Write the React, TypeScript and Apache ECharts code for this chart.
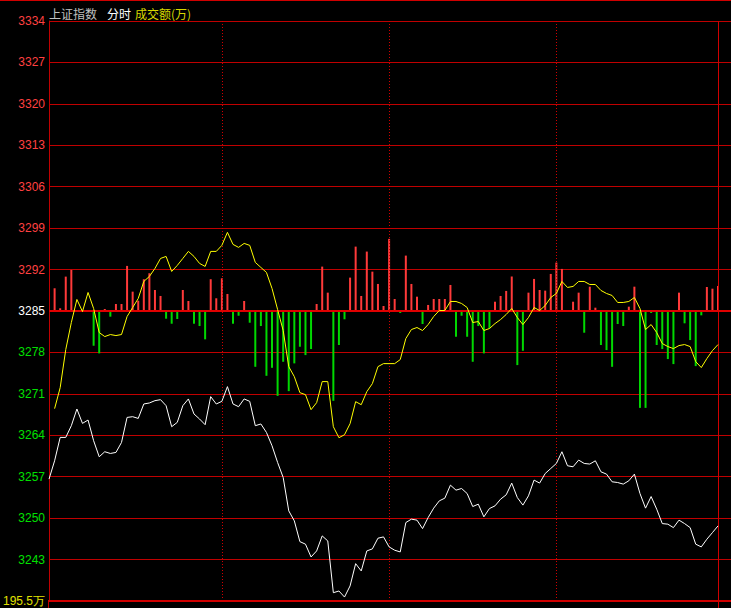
import React, { useEffect, useRef } from 'react';
import * as echarts from 'echarts';

// White line: index price, one point per 2 minutes (121 points)
const priceLine = [
  3256.60, 3259.69, 3263.64, 3263.64, 3265.62, 3268.44, 3266.01, 3266.58, 3263.08, 3260.37,
  3261.22, 3260.93, 3261.10, 3262.79, 3267.02, 3267.14, 3266.85, 3269.29, 3269.46, 3269.85,
  3270.02, 3269.00, 3265.45, 3266.18, 3269.00, 3270.14, 3267.60, 3266.75, 3265.79, 3270.53,
  3269.29, 3269.73, 3272.22, 3269.29, 3268.83, 3270.14, 3269.73, 3265.62, 3265.91, 3264.48,
  3262.23, 3259.41, 3256.87, 3251.23, 3249.54, 3246.03, 3245.60, 3243.44, 3244.46, 3247.00,
  3246.15, 3237.40, 3237.69, 3236.67, 3238.54, 3242.31, 3241.08, 3244.46, 3244.80, 3246.61,
  3246.83, 3245.14, 3244.58, 3244.29, 3249.25, 3249.83, 3249.66, 3248.23, 3250.10, 3251.69,
  3252.92, 3253.38, 3255.58, 3254.73, 3255.01, 3254.16, 3251.96, 3252.36, 3250.22, 3251.62,
  3252.08, 3253.21, 3253.94, 3255.92, 3253.48, 3252.20, 3253.77, 3256.43, 3255.92, 3257.54,
  3258.39, 3259.24, 3261.22, 3258.85, 3258.68, 3259.81, 3259.24, 3259.14, 3259.69, 3257.83,
  3257.44, 3256.14, 3256.02, 3255.75, 3256.31, 3257.44, 3254.16, 3251.69, 3253.65, 3251.52,
  3249.08, 3248.98, 3248.40, 3249.66, 3249.08, 3248.40, 3245.60, 3245.14, 3246.44, 3247.56,
  3248.69,
];

// Yellow line (first point missing)
const leadLine: (number | null)[] = [
  null, 3268.50, 3272.05, 3278.48, 3283.05, 3286.95, 3284.91, 3288.13, 3285.42, 3281.36,
  3280.68, 3281.02, 3280.85, 3281.02, 3284.07, 3285.59, 3287.11, 3289.99, 3290.84, 3292.19,
  3293.88, 3294.22, 3291.68, 3292.70, 3293.88, 3295.07, 3294.22, 3293.04, 3292.53, 3295.07,
  3295.07, 3296.09, 3298.29, 3296.25, 3295.75, 3296.42, 3296.09, 3293.21, 3292.36, 3291.52,
  3288.81, 3285.25, 3281.70, 3275.60, 3273.91, 3271.20, 3270.87, 3268.33, 3269.51, 3273.07,
  3273.07, 3265.45, 3263.59, 3264.09, 3265.96, 3269.68, 3269.17, 3271.37, 3272.73, 3275.60,
  3276.11, 3276.11, 3276.11, 3276.79, 3280.34, 3281.87, 3282.21, 3281.70, 3282.71, 3284.07,
  3285.08, 3285.08, 3286.61, 3286.61, 3286.27, 3285.59, 3283.05, 3283.22, 3281.70, 3282.04,
  3282.88, 3283.56, 3284.41, 3285.42, 3283.90, 3282.71, 3283.90, 3285.59, 3285.08, 3285.93,
  3287.28, 3287.96, 3289.99, 3288.98, 3289.15, 3289.99, 3289.99, 3289.48, 3289.48, 3288.47,
  3287.96, 3287.62, 3286.44, 3286.44, 3286.61, 3287.28, 3285.42, 3281.87, 3282.71, 3281.36,
  3279.50, 3278.99, 3278.65, 3279.16, 3279.33, 3278.99, 3276.45, 3275.44, 3276.96, 3278.31,
  3279.33,
];

// Red/green bars around the 3285 baseline (same units as the price axis)
const flowBars = [
  0, 3.84, 0.46, 5.81, 6.94, 0, -0.17, 0, -5.87, -7.16,
  0.34, -0.96, 1.18, 1.18, 7.62, 3.27, 1.74, 5.37, 6.38, 3.55,
  2.54, -1.30, -2.15, -1.35, 3.55, 1.69, -2.15, -2.54, -4.79, 5.37,
  2.15, 5.53, 2.88, -2.15, -0.80, 1.69, -1.98, -9.43, -2.54, -10.95,
  -9.60, -14.34, -8.58, -13.54, -8.85, -6.04, -7.45, -6.43, 1.18, 7.50,
  3.10, -15.18, -5.75, -1.40, 5.64, 10.88, 2.54, 10.04, 6.65, 4.57,
  0.85, 12.19, 2.03, -0.34, 9.36, 4.57, 2.42, -2.20, 1.02, 2.03,
  2.03, 2.03, 4.40, -4.35, -0.80, -4.35, -8.58, -2.54, -7.16, -2.93,
  1.57, 2.54, 3.39, 5.81, -9.14, -6.72, 3.10, 5.42, 3.55, 3.44,
  6.26, 8.18, 7.11, 0, 1.57, 3.10, -3.67, 4.11, 0.56, -5.75,
  -6.60, -9.43, -2.20, -2.54, 0.73, 4.11, -16.37, -16.37, -0.34, -5.75,
  -6.43, -8.12, -8.97, 3.10, -2.08, -4.91, -9.31, -0.73, 4.06, 3.77,
  4.23,
];

const dividerIdx = [31, 61, 91];
const lastIdx = 120;
const yMin = 3236;
const yMax = 3334;
const yStep = 7;
const baseline = 3285;
const bottomLabel = '195.5万';
const headerTexts = ['上证指数', '分时', '成交额(万)'];

export default function App() {
  const ref = useRef<HTMLDivElement>(null);

  useEffect(() => {
    const chart = echarts.init(ref.current as HTMLDivElement, null, { renderer: 'svg' });
    const GRID = '#c00000';
    const NUM_FONT = '"Liberation Sans", Arial, sans-serif';
    const CJK_FONT = '"Noto Sans CJK SC", sans-serif';
    const span = 49;

    const option: any = {
      animation: false,
      backgroundColor: '#000000',
      grid: { left: 48, right: 0, top: 21, bottom: 7 },
      xAxis: {
        type: 'value',
        min: 0,
        max: (lastIdx * 683) / 670,
        axisLine: { show: true, onZero: false, lineStyle: { color: '#d00000', width: 2 } },
        axisTick: { show: false },
        axisLabel: { show: false },
        splitLine: { show: false },
      },
      yAxis: [
        {
          type: 'value',
          min: yMin,
          max: yMax,
          interval: yStep,
          axisLine: { show: true, lineStyle: { color: GRID, width: 1 } },
          axisTick: { show: false },
          splitLine: { show: true, lineStyle: { color: GRID, width: 1 } },
          axisLabel: {
            show: true,
            margin: 4,
            showMinLabel: true,
            showMaxLabel: true,
            formatter: (v: number) => {
              const r = Math.round(v);
              if (r === yMin) return '{y|' + bottomLabel + '}';
              if (r > baseline) return '{r|' + r + '}';
              if (r === baseline) return '{w|' + r + '}';
              return '{g|' + r + '}';
            },
            rich: {
              r: { color: '#ff4040', fontSize: 12, fontFamily: NUM_FONT },
              w: { color: '#ffffff', fontSize: 12, fontFamily: NUM_FONT },
              g: { color: '#00e000', fontSize: 12, fontFamily: NUM_FONT },
              y: { color: '#e0e000', fontSize: 12, fontFamily: NUM_FONT },
            },
          },
        },
        {
          type: 'value',
          min: -span,
          max: span,
          show: false,
          splitLine: { show: false },
        },
      ],
      graphic: [
        { type: 'line', silent: true, shape: { x1: 0, y1: 0.5, x2: 731, y2: 0.5 }, style: { stroke: '#d00000', lineWidth: 1 } },
        { type: 'line', silent: true, shape: { x1: 48.5, y1: 600, x2: 48.5, y2: 608 }, style: { stroke: GRID, lineWidth: 1 } },
        { type: 'line', silent: true, shape: { x1: 718.5, y1: 600, x2: 718.5, y2: 608 }, style: { stroke: '#d00000', lineWidth: 1 } },
        { type: 'text', x: 49, y: 13, style: { text: headerTexts[0], fill: '#c0c0c0', fontSize: 12, fontFamily: CJK_FONT, verticalAlign: 'middle' } },
        { type: 'text', x: 107, y: 13, style: { text: headerTexts[1], fill: '#ffffff', fontSize: 12, fontFamily: CJK_FONT, verticalAlign: 'middle' } },
        { type: 'text', x: 135, y: 13, style: { text: headerTexts[2], fill: '#d8d800', fontSize: 12, fontFamily: CJK_FONT, verticalAlign: 'middle' } },
      ],
      series: [
        {
          type: 'bar',
          yAxisIndex: 1,
          barWidth: 2,
          z: 2,
          data: flowBars.map((d, i) => [i, d]),
          itemStyle: {
            color: (p: any) => (p.value[1] >= 0 ? '#ff3a3a' : '#00d800'),
          },
        },
        {
          type: 'line',
          z: 4,
          showSymbol: false,
          symbol: 'none',
          data: priceLine.map((v, i) => [i, v]),
          lineStyle: { color: '#ffffff', width: 1 },
          markLine: {
            silent: true,
            symbol: 'none',
            label: { show: false },
            z: 3,
            data: [
              ...dividerIdx.map((i) => ({ xAxis: i, lineStyle: { color: '#d00000', width: 1, type: [1, 2] } })),
              { xAxis: lastIdx, lineStyle: { color: '#d00000', width: 1, type: 'solid' } },
              { yAxis: baseline, lineStyle: { color: '#e00000', width: 2, type: 'solid' } },
            ],
          },
        },
        {
          type: 'line',
          z: 5,
          showSymbol: false,
          symbol: 'none',
          data: leadLine.map((v, i) => [i, v]).filter((p) => p[1] !== null),
          lineStyle: { color: '#ffff00', width: 1 },
        },
      ],
    };

    chart.setOption(option);
    return () => chart.dispose();
  }, []);

  return (
    <div
      ref={ref}
      style={{ position: 'fixed', left: 0, top: 0, width: 731, height: 608, background: '#000' }}
    />
  );
}
